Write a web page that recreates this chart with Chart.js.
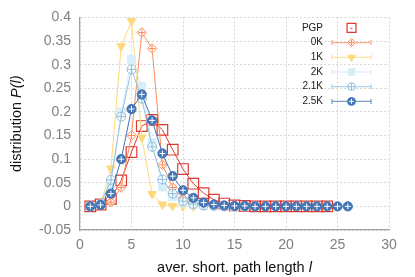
<!DOCTYPE html>
<html><head><meta charset="utf-8">
<script src="https://cdn.jsdelivr.net/npm/chart.js@4.4.1/dist/chart.umd.min.js"></script>
<style>html,body{margin:0;padding:0;background:#fff}#wrap{width:415px;height:277px}</style>
</head><body><div id="wrap"><canvas id="c" width="415" height="277"></canvas></div>
<script>
// ---- data ----
const pathLengths = [1,2,3,4,5,6,7,8,9,10,11,12,13,14,15,16,17,18,19,20,21,22,23,24,25,26];
const xTickValues = [0,5,10,15,20,25,30];
const yTickValues = [-0.05,0,0.05,0.1,0.15,0.2,0.25,0.3,0.35,0.4];
const seriesNames = ['PGP','0K','1K','2K','2.1K','2.5K'];
const pgpValues  = [0.000,0.004,0.016,0.055,0.115,0.170,0.183,0.162,0.120,0.079,0.048,0.028,0.014,0.006,0.002,0.001,0,0,0,0,0,0,0,0];
const k0Values   = [0.000,0.001,0.009,0.040,0.150,0.368,0.334,0.088,0.040,0.016,0.006,0.002,0.001,0];
const k1Values   = [0.000,0.003,0.080,0.339,0.392,0.146,0.026,0.004,0.001,0,0];
const k2Values   = [0.000,0.004,0.045,0.200,0.311,0.254,0.135,0.041,0.020,0.007,0.003,0.001,0.001,0,0,0];
const k21Values  = [0.000,0.005,0.056,0.190,0.290,0.228,0.126,0.057,0.027,0.011,0.005,0.002,0.001,0,0,0,0];
const k25Values  = [0.000,0.003,0.027,0.100,0.206,0.237,0.182,0.112,0.064,0.034,0.018,0.008,0.004,0.002,0.001,0.001,0,0,0,0,0,0,0,0,0,0];

const FONT = "'Liberation Sans', Arial, Helvetica, sans-serif";
function pts(vals){ return vals.map((v,i)=>({x:pathLengths[i], y:v})); }

const styles = {
  'PGP': {color:'#dc3a30', pointStyle:'rect', radius:7.5, fill:'rgba(0,0,0,0)', lw:1.2, rot:0},
  '0K':  {color:'#fc8d59', pointStyle:'rectRot', radius:4.8, fill:'rgba(255,255,255,0.6)', lw:1, rot:0, cross:3.5, crossColor:'#fc8d59'},
  '1K':  {color:'#fed97a', pointStyle:'triangle', radius:5, fill:'#fed97a', lw:1, rot:180},
  '2K':  {color:'#d8eef7', pointStyle:'rect', radius:5.5, fill:'#d8eef7', lw:1, rot:0},
  '2.1K':{color:'#91bfdb', pointStyle:'circle', radius:4.5, fill:'rgba(255,255,255,0.6)', lw:1, rot:0, cross:4.5, crossColor:'#91bfdb'},
  '2.5K':{color:'#4575b4', pointStyle:'circle', radius:4.6, fill:'#4575b4', lw:1, rot:0, cross:3, crossColor:'#ffffff'}
};
const seriesValues = [pgpValues,k0Values,k1Values,k2Values,k21Values,k25Values];
const drawOrder = {'PGP':10,'0K':8,'1K':6,'2K':5,'2.1K':3,'2.5K':1};

const datasets = [];
seriesNames.forEach((name,i)=>{
  const s = styles[name];
  datasets.push({
    label:name, legendEntry:true, data:pts(seriesValues[i]),
    borderColor:s.color, borderWidth:1, tension:0, fill:false,
    pointStyle:s.pointStyle, pointRadius:s.radius, pointRotation:s.rot,
    pointBackgroundColor:s.fill, pointBorderColor:s.color, pointBorderWidth:s.lw,
    order:drawOrder[name]
  });
  if (s.cross) {
    datasets.push({
      label:name+' bars', legendEntry:false, data:pts(seriesValues[i]), showLine:false,
      pointStyle:'cross', pointRadius:s.cross, pointBorderColor:s.crossColor, pointBorderWidth:1,
      order:drawOrder[name]-1
    });
  }
});

function drawMarker(ctx, s, x, y, r) {
  ctx.save();
  ctx.lineWidth = s.lw; ctx.strokeStyle = s.color; ctx.fillStyle = s.fill;
  ctx.beginPath();
  if (s.pointStyle==='circle') ctx.arc(x,y,r,0,Math.PI*2);
  else if (s.pointStyle==='rect') { const h=r*Math.SQRT1_2; ctx.rect(x-h,y-h,2*h,2*h); }
  else if (s.pointStyle==='rectRot') { ctx.moveTo(x,y-r); ctx.lineTo(x+r,y); ctx.lineTo(x,y+r); ctx.lineTo(x-r,y); ctx.closePath(); }
  else if (s.pointStyle==='triangle') { const a=s.rot*Math.PI/180;
    for (let k=0;k<3;k++){ const t=a+k*2*Math.PI/3; const px=x+Math.sin(t)*r, py=y-Math.cos(t)*r; k?ctx.lineTo(px,py):ctx.moveTo(px,py);} ctx.closePath(); }
  ctx.fill(); ctx.stroke();
  if (s.cross) {
    const c=s.cross*0.8; ctx.beginPath(); ctx.strokeStyle=s.crossColor; ctx.lineWidth=1;
    ctx.moveTo(x-c,y); ctx.lineTo(x+c,y); ctx.moveTo(x,y-c); ctx.lineTo(x,y+c); ctx.stroke();
  }
  ctx.restore();
}

const legendPlugin = {
  id:'customLegend',
  afterDraw(chart){
    const ctx = chart.ctx, area = chart.chartArea;
    const textRight = area.right - 66, x0 = area.right - 57, x1 = area.right - 18, xm = (x0+x1)/2;
    let y = area.top + 10.5;
    ctx.save();
    ctx.font = '10px ' + FONT; ctx.textAlign='right'; ctx.textBaseline='middle'; ctx.fillStyle='#1a1a1a';
    chart.data.datasets.filter(d=>d.legendEntry).forEach(d=>{
      const s = styles[d.label];
      ctx.fillText(d.label, textRight, y);
      if (d.label==='PGP') {
        drawMarker(ctx, s, xm, y, 6.3);
        ctx.beginPath(); ctx.strokeStyle=s.color; ctx.lineWidth=1; ctx.moveTo(xm-1,y+0.5); ctx.lineTo(xm+1,y+0.5); ctx.stroke();
      } else {
        ctx.save(); ctx.globalAlpha=0.7; ctx.strokeStyle=s.color==='#d8eef7'?'#d0eaf5':s.color; ctx.lineWidth=1.3;
        ctx.beginPath(); ctx.moveTo(x0,y); ctx.lineTo(x1,y);
        ctx.moveTo(x0,y-2.5); ctx.lineTo(x0,y+2.5); ctx.moveTo(x1,y-2.5); ctx.lineTo(x1,y+2.5); ctx.stroke();
        ctx.restore();
        drawMarker(ctx, s, xm, y, s.radius*0.85);
      }
      y += 14.7;
    });
    // axis titles with italic variables
    ctx.fillStyle='#111'; ctx.textBaseline='alphabetic'; ctx.textAlign='left';
    const f = '14.5px ' + FONT, fi = 'italic 14.5px ' + FONT;
    const xa = 'aver. short. path length ', xb = 'l';
    ctx.font=f; const wa=ctx.measureText(xa).width; ctx.font=fi; const wb=ctx.measureText(xb).width;
    let xs = (area.left+area.right)/2 - (wa+wb)/2;
    ctx.font=f; ctx.fillText(xa, xs, 272); ctx.font=fi; ctx.fillText(xb, xs+wa, 272);
    ctx.save();
    ctx.translate(20.5, (area.top+area.bottom)/2); ctx.rotate(-Math.PI/2);
    const ya='distribution ', yb='P(l)';
    ctx.font=f; const wya=ctx.measureText(ya).width; ctx.font=fi; const wyb=ctx.measureText(yb).width;
    let ys = -(wya+wyb)/2;
    ctx.font=f; ctx.fillText(ya, ys, 0); ctx.font=fi; ctx.fillText(yb, ys+wya, 0);
    ctx.restore();
    ctx.restore();
  }
};

const gridOpts = {color:'#d6d6d6', lineWidth:1, drawTicks:false};
new Chart(document.getElementById('c'), {
  type:'line',
  data:{datasets},
  options:{
    responsive:false, animation:false, devicePixelRatio:1,
    layout:{padding:{left:0, right:26, top:17, bottom:0}},
    plugins:{legend:{display:false}, tooltip:{enabled:false}},
    scales:{
      x:{type:'linear', min:0, max:30,
        afterBuildTicks(s){ s.ticks = xTickValues.map(v=>({value:v})); },
        afterFit(s){ s.height = 47; },
        ticks:{padding:7, color:'#808080', font:{family:FONT, size:14}, callback:v=>String(v), maxRotation:0},
        grid:gridOpts, border:{display:true, color:'#a0a0a0', width:1.2, dash:[2,2]}
      },
      y:{type:'linear', min:-0.05, max:0.4,
        afterBuildTicks(s){ s.ticks = yTickValues.map(v=>({value:v})); },
        afterFit(s){ s.width = 80; },
        ticks:{padding:9, color:'#808080', font:{family:FONT, size:14}, callback:v=>String(+Number(v).toFixed(2))},
        grid:gridOpts, border:{display:true, color:'#a0a0a0', width:1.2, dash:[2,2]}
      }
    }
  },
  plugins:[legendPlugin]
});
</script></body></html>
